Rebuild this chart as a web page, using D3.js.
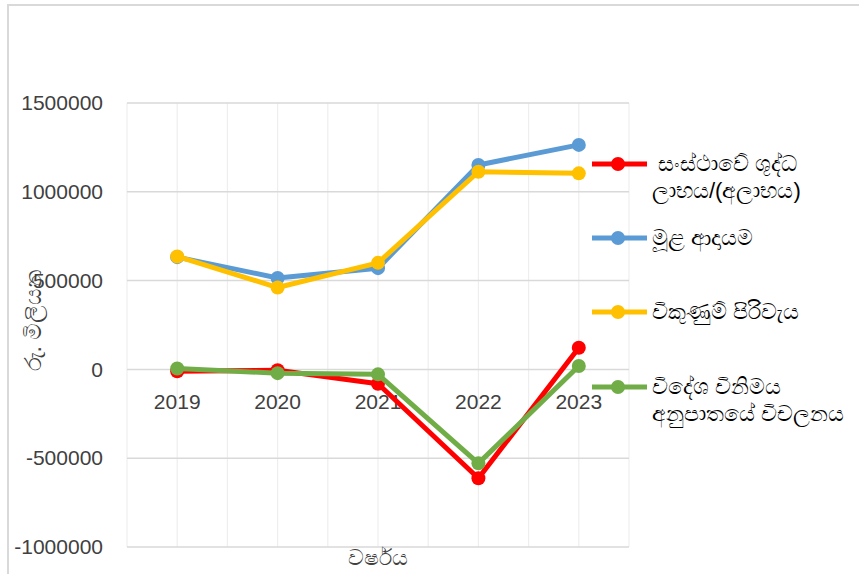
<!DOCTYPE html>
<html>
<head>
<meta charset="utf-8">
<script src="https://cdn.jsdelivr.net/npm/d3@7/dist/d3.min.js"></script>
<style>
  html, body { margin: 0; padding: 0; background: #fff; }
  svg { display: block; font-family: "Liberation Sans", "Noto Sans", sans-serif; }
</style>
</head>
<body>
<svg id="chart" width="859" height="574"></svg>
<script>
const years = ["2019", "2020", "2021", "2022", "2023"];
const netProfit = [-10000, -5000, -81000, -613000, 122000];
const grossIncome = [632000, 515000, 570000, 1151000, 1264000];
const costOfSales = [636000, 461000, 600000, 1113000, 1104000];
const fxVariation = [5000, -21000, -28000, -529000, 19000];
const yTicks = [-1000000, -500000, 0, 500000, 1000000, 1500000];
const seriesNames = [
  ["සංස්ථාවේ ශුද්ධ", "ලාභය/(අලාභය)"],
  ["මූළ ආදායම"],
  ["විකුණුම් පිරිවැය"],
  ["විදේශ විනිමය", "අනුපාතයේ විචලනය"]
];
const yTitle = "රු. මිලියන";
const xTitle = "වර්ෂය";

const colors = ["#FF0000", "#5B9BD5", "#FFC000", "#70AD47"];
const seriesValues = [netProfit, grossIncome, costOfSales, fxVariation];

const svg = d3.select("#chart");

// chart border
svg.append("rect").attr("x", 8).attr("y", 5).attr("width", 870).attr("height", 600)
  .attr("fill", "none").attr("stroke", "#d9d9d9").attr("stroke-width", 2);

const plot = { left: 127, right: 629, top: 103, bottom: 547 };
const x = d3.scaleBand().domain(years).range([plot.left, plot.right]).padding(0);
const y = d3.scaleLinear().domain([-1000000, 1500000]).range([plot.bottom, plot.top]);
const bw = x.bandwidth();

// vertical gridlines (band edges and centers)
const vLines = [];
years.forEach(c => { vLines.push(x(c)); vLines.push(x(c) + bw / 2); });
vLines.push(plot.right);
svg.append("g").selectAll("line").data(vLines).join("line")
  .attr("x1", d => d).attr("x2", d => d)
  .attr("y1", plot.top).attr("y2", plot.bottom)
  .attr("stroke", "#eeeeee").attr("stroke-width", 1.2);

// horizontal gridlines
svg.append("g").selectAll("line").data(yTicks).join("line")
  .attr("x1", plot.left).attr("x2", plot.right)
  .attr("y1", d => y(d)).attr("y2", d => y(d))
  .attr("stroke", "#d9d9d9").attr("stroke-width", 1.5);

// y axis
const yAxis = svg.append("g").attr("transform", `translate(${plot.left},0)`)
  .call(d3.axisLeft(y).tickValues(yTicks).tickSize(0).tickPadding(24)
    .tickFormat(d => String(d)));
yAxis.select(".domain").remove();
yAxis.selectAll("text").attr("font-size", 21).attr("fill", "#404040")
  .attr("font-family", "'Liberation Sans', sans-serif");

// x axis
const xAxis = svg.append("g").attr("transform", `translate(0,${y(0)})`)
  .call(d3.axisBottom(x).tickSize(0));
xAxis.select(".domain").remove();
xAxis.selectAll("text").attr("font-size", 21).attr("fill", "#404040")
  .attr("y", 40).attr("dy", 0)
  .attr("font-family", "'Liberation Sans', sans-serif");

// lines
const line = d3.line().x((d, i) => x(years[i]) + bw / 2).y(d => y(d));
seriesValues.forEach((vals, si) => {
  const g = svg.append("g");
  g.append("path").datum(vals).attr("d", line)
    .attr("fill", "none").attr("stroke", colors[si]).attr("stroke-width", 5)
    .attr("stroke-linejoin", "round");
  g.selectAll("circle").data(vals).join("circle")
    .attr("cx", (d, i) => x(years[i]) + bw / 2).attr("cy", d => y(d))
    .attr("r", 7).attr("fill", colors[si]);
});

// axis titles
svg.append("text").attr("transform", "translate(41,320) rotate(-90)")
  .attr("text-anchor", "middle").attr("font-size", 23).attr("fill", "#404040")
  .text(yTitle);
svg.append("text").attr("x", 378).attr("y", 565)
  .attr("text-anchor", "middle").attr("font-size", 22).attr("fill", "#404040")
  .text(xTitle);

// legend
const legendY = [164, 238, 312, 387];
const leg = svg.append("g");
seriesNames.forEach((lines, i) => {
  const gy = legendY[i];
  leg.append("line").attr("x1", 592).attr("x2", 647).attr("y1", gy).attr("y2", gy)
    .attr("stroke", colors[i]).attr("stroke-width", 5);
  leg.append("circle").attr("cx", 618).attr("cy", gy).attr("r", 7).attr("fill", colors[i]);
  const t = leg.append("text").attr("x", i === 0 ? 658 : 652).attr("y", gy + 7)
    .attr("font-size", 22).attr("fill", "#000");
  lines.forEach((ln, j) => {
    t.append("tspan").attr("x", (i === 0 && j === 0) ? 658 : 652)
      .attr("dy", j === 0 ? 0 : 27).text(ln);
  });
});
</script>
</body>
</html>
